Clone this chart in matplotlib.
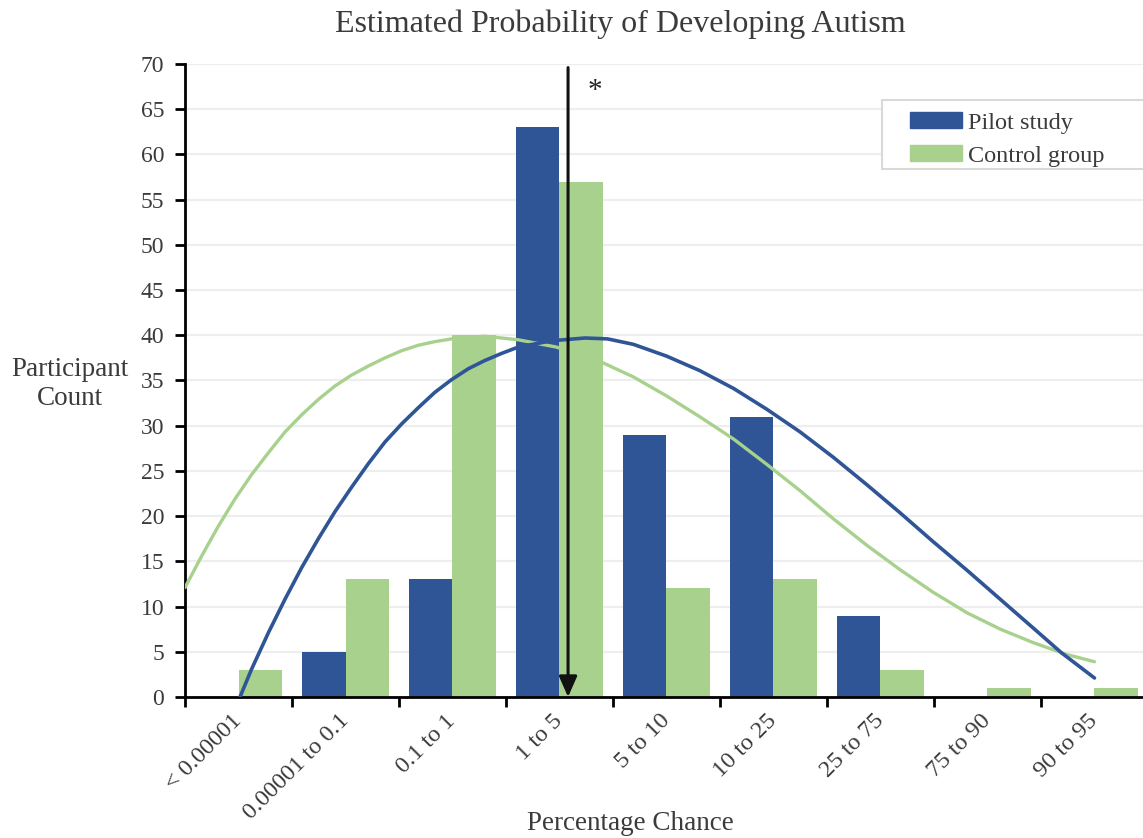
import matplotlib
matplotlib.use("Agg")
import matplotlib.pyplot as plt
from matplotlib.patches import Rectangle, Patch
import numpy as np

# --- data -------------------------------------------------------------
categories = ["< 0.00001", "0.00001 to 0.1", "0.1 to 1", "1 to 5", "5 to 10",
              "10 to 25", "25 to 75", "75 to 90", "90 to 95"]
pilot_counts = [0, 5, 13, 63, 29, 31, 9, 0, 0]
control_counts = [3, 13, 40, 57, 12, 13, 3, 1, 1]

# trend curves (x in category units, y in participant count)
pilot_trend_x = [0.014, 0.123, 0.279, 0.434, 0.590, 0.746, 0.902, 1.057,
                 1.213, 1.369, 1.525, 1.681, 1.836, 1.992, 2.148, 2.30, 2.46,
                 2.615, 2.93, 3.24, 3.45, 3.69, 4.00, 4.31, 4.63, 4.94, 5.25,
                 5.56, 5.87, 6.18, 6.49, 6.81, 7.12, 7.43, 7.69, 8.00]
pilot_trend_y = [0.0, 3.1, 7.1, 10.8, 14.3, 17.5, 20.5, 23.2, 25.8, 28.2,
                 30.2, 32.0, 33.7, 35.1, 36.3, 37.2, 38.0, 38.7, 39.4, 39.7,
                 39.6, 39.0, 37.7, 36.1, 34.1, 31.8, 29.3, 26.5, 23.5, 20.4,
                 17.2, 14.0, 10.8, 7.6, 4.9, 2.1]
control_trend_x = [-0.50, -0.344, -0.188, -0.033, 0.123, 0.279, 0.434, 0.590,
                   0.746, 0.902, 1.057, 1.213, 1.369, 1.525, 1.681, 1.836,
                   1.992, 2.30, 2.615, 2.97, 3.38, 3.69, 4.00, 4.31, 4.63,
                   4.94, 5.25, 5.56, 5.87, 6.18, 6.49, 6.81, 7.12, 7.43, 7.74,
                   8.00]
control_trend_y = [12.1, 15.6, 18.9, 21.9, 24.6, 27.0, 29.3, 31.2, 32.9, 34.4,
                   35.6, 36.6, 37.5, 38.3, 38.9, 39.3, 39.6, 39.9, 39.5, 38.7,
                   37.1, 35.4, 33.3, 31.0, 28.5, 25.7, 22.8, 19.7, 16.8, 14.1,
                   11.6, 9.3, 7.5, 6.0, 4.7, 3.9]

marker_x = 3.08          # position of the highlighted reference arrow
marker_top = 69.6

# --- style ------------------------------------------------------------
BLUE = "#2F5597"
GREEN = "#A9D18E"
TEXT = "#3b3b3b"
plt.rcParams["font.family"] = ["Liberation Serif", "DejaVu Serif"]

W, H = 1143, 838
fig = plt.figure(figsize=(W / 100, H / 100), dpi=100)
ax = fig.add_axes([185 / W, 1 - 697 / H, (1148 - 185) / W, (697 - 64) / H])

x = np.arange(len(categories))
bw = 0.41
ax.bar(x - bw / 2, pilot_counts, width=bw, color=BLUE, zorder=2)
ax.bar(x + bw / 2, control_counts, width=bw, color=GREEN, zorder=2)

ax.plot(control_trend_x, control_trend_y, color=GREEN, lw=2.4, zorder=3,
        solid_capstyle="round", solid_joinstyle="round")
ax.plot(pilot_trend_x, pilot_trend_y, color=BLUE, lw=2.6, zorder=3,
        solid_capstyle="round", solid_joinstyle="round")

ax.annotate("", xy=(marker_x, 0), xytext=(marker_x, marker_top),
            arrowprops=dict(arrowstyle="-|>,head_length=1.25,head_width=0.55",
                            color="#111111", lw=2.2, shrinkA=0, shrinkB=0),
            zorder=4)
ax.text(marker_x + 0.255, 67.0, "*", ha="center", va="center",
        fontsize=21, color="#222222")

# axes
ax.set_xlim(-0.5, len(categories) - 0.5)
ax.set_ylim(0, 70)
ax.set_yticks(np.arange(0, 71, 5))
ax.yaxis.grid(True, color="#EEEEEE", lw=1.6)
ax.set_axisbelow(True)
for s in ("top", "right"):
    ax.spines[s].set_visible(False)
for s in ("left", "bottom"):
    ax.spines[s].set_linewidth(2.0)
    ax.spines[s].set_color("black")

ax.set_xticks(np.arange(-0.5, len(categories), 1.0))
ax.set_xticklabels([])
ax.set_xticks(x, minor=True)
ax.set_xticklabels(categories, minor=True, rotation=45, ha="right",
                   va="center", rotation_mode="anchor")
ax.tick_params(axis="x", which="major", length=7, width=2.0, direction="out")
ax.tick_params(axis="x", which="minor", length=0, pad=15, labelsize=17.5,
               labelcolor=TEXT)
ax.tick_params(axis="y", length=7, width=2.0, direction="out", pad=8,
               labelsize=17, labelcolor=TEXT)

# texts
fig.text(620 / W, 1 - 24 / H, "Estimated Probability of Developing Autism",
         ha="center", va="center", fontsize=23, color=TEXT)
fig.text(70 / W, 1 - 384 / H, "Participant\nCount", ha="center", va="center",
         fontsize=19.5, color=TEXT, linespacing=1.22)
fig.text(630 / W, 1 - 823 / H, "Percentage Chance", ha="center", va="center",
         fontsize=19.5, color=TEXT)

# legend
fig.patches.append(Rectangle((882 / W, 1 - 169 / H), (1160 - 882) / W, 69 / H,
                             transform=fig.transFigure, facecolor="white",
                             edgecolor="#D9D9D9", lw=1.5, zorder=5))
handles = [Patch(color=BLUE, label="Pilot study"),
           Patch(color=GREEN, label="Control group")]
leg = fig.legend(handles=handles, loc="upper left",
                 bbox_to_anchor=(898 / W, 1 - 100 / H), frameon=False,
                 fontsize=17.5, handlelength=2.15, handleheight=0.62,
                 handletextpad=0.25, labelspacing=0.48, borderpad=0.0,
                 labelcolor=TEXT)
leg.set_zorder(6)

fig.savefig("out.png", dpi=100)
